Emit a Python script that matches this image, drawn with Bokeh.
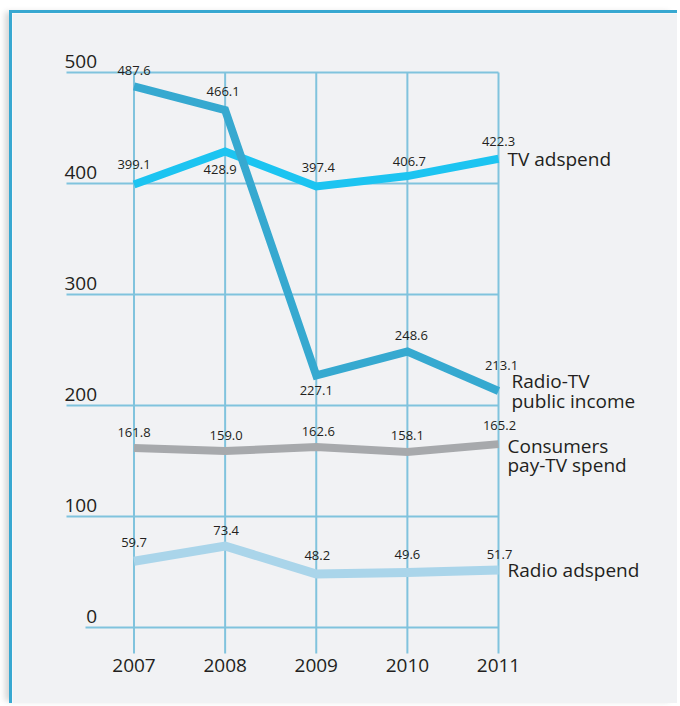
from bokeh.plotting import figure
from bokeh.embed import file_html
from bokeh.resources import INLINE
from bokeh.core.properties import value
from bokeh.models import ColumnDataSource

# ---------------- data ----------------
years = [2007, 2008, 2009, 2010, 2011]
year_labels = ["2007", "2008", "2009", "2010", "2011"]
y_ticks = [0, 100, 200, 300, 400, 500]
y_tick_labels = ["0", "100", "200", "300", "400", "500"]

radio_tv_public_income = [487.6, 466.1, 227.1, 248.6, 213.1]
tv_adspend = [399.1, 428.9, 397.4, 406.7, 422.3]
consumers_pay_tv = [161.8, 159.0, 162.6, 158.1, 165.2]
radio_adspend = [59.7, 73.4, 48.2, 49.6, 51.7]

series_names = ["TV adspend", "Radio-TV\npublic income", "Consumers\npay-TV spend", "Radio adspend"]

# ---------------- layout constants ----------------
W, H = 668, 693
FRAME_LEFT, FRAME_TOP = 12, 13          # page position of the plot area
PX_YEAR = 91.125                         # px per year
PX_UNIT = 1.11                           # px per value unit
X2007_PAGE, Y0_PAGE = 133.5, 627.0
BIG_SHIFT, SMALL_SHIFT = -8, -5.5        # baseline correction for 19px / 13px text

x_start = 2007 - (X2007_PAGE - FRAME_LEFT) / PX_YEAR
x_end = x_start + W / PX_YEAR
y_end = (Y0_PAGE - FRAME_TOP) / PX_UNIT
y_start = y_end - H / PX_UNIT

BG = "#f1f2f4"
GRID = "#80c3dd"
TXT = "#231f20"
FONT = value("Open Sans")

p = figure(width=W, height=H, x_range=(x_start, x_end), y_range=(y_start, y_end),
           output_backend="svg", toolbar_location=None, min_border=0,
           background_fill_color=BG, border_fill_color=BG, outline_line_color=None,
           styles={"margin-top": "10px", "margin-left": "9px",
                   "border-top": "3px solid #38a8d1", "border-left": "3px solid #38a8d1",
                   "box-shadow": "-6px 0px 6px -2px rgba(0,0,0,0.16)"})
p.axis.visible = False
p.grid.visible = False

# ---------------- grid ----------------
h_x0 = [2007 - (X2007_PAGE - 85) / PX_YEAR if t == 0 else 2007 - (X2007_PAGE - 66) / PX_YEAR
        for t in y_ticks]
p.segment(x0=h_x0, y0=y_ticks, x1=[years[-1]] * len(y_ticks), y1=y_ticks,
          line_color=GRID, line_width=2)
v_bottom = -(653 - Y0_PAGE) / PX_UNIT
p.segment(x0=years, y0=[v_bottom] * len(years), x1=years, y1=[y_ticks[-1]] * len(years),
          line_color=GRID, line_width=2)

# tick labels
p.text(x=[2007] * len(y_ticks), y=y_ticks, text=y_tick_labels, x_offset=-37, y_offset=-3 + BIG_SHIFT,
       text_align="right", text_baseline="alphabetic", text_font=FONT,
       text_font_size="19px", text_color=TXT)
p.text(x=years, y=[0] * len(years), text=year_labels, y_offset=46 + BIG_SHIFT,
       text_align="center", text_baseline="alphabetic", text_font=FONT,
       text_font_size="19px", text_color=TXT)

# ---------------- lines ----------------
series = [
    (tv_adspend, "#1cc4f1", 8, [-14, 24, -13, -9, -12], [0, -5, 2, 2, 0]),
    (consumers_pay_tv, "#a7a9ac", 8, [-10, -10, -10, -11, -13], [0, 1, 2, 0, 1]),
    (radio_adspend, "#aad5ea", 9, [-13, -10, -13, -12, -10], [0, 1, 1, 0, 1]),
    (radio_tv_public_income, "#36a9d0", 8, [-10, -13, 21, -11, -20], [0, -2, 0, 4, 3]),
]
for vals, col, lw, dy, dx in series:
    p.line(years, vals, line_color=col, line_width=lw, line_join="miter", line_cap="butt")
for vals, col, lw, dy, dx in series:
    src = ColumnDataSource(dict(x=years, y=vals, t=[f"{v:.1f}" for v in vals],
                                dy=[d + SMALL_SHIFT for d in dy], dx=dx))
    p.text(x="x", y="y", text="t", x_offset="dx", y_offset="dy", source=src,
           text_align="center", text_baseline="alphabetic", text_font=FONT,
           text_font_size="13px", text_color=TXT)

# series labels
last_vals = [tv_adspend[-1], radio_tv_public_income[-1], consumers_pay_tv[-1], radio_adspend[-1]]
lab_src = ColumnDataSource(dict(x=[years[-1]] * 4, y=last_vals, t=series_names,
                                dx=[9, 13, 9, 9], dy=[-13, -22.5, -11, -13]))
p.text(x="x", y="y", text="t", x_offset="dx", y_offset="dy", source=lab_src,
       text_align="left", text_baseline="top", text_font=FONT, text_font_size="19px",
       text_line_height=0.74, text_color=TXT)

open("out.html", "w").write(file_html(p, INLINE))
